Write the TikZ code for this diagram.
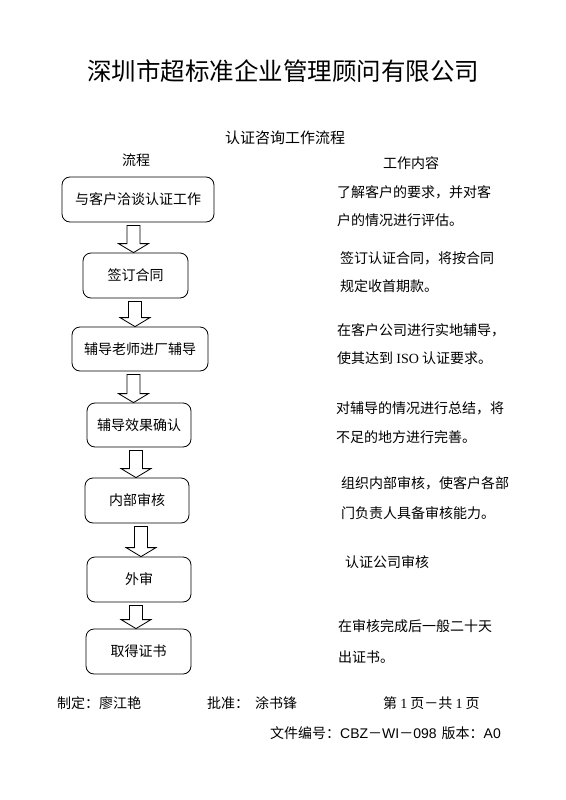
\documentclass[tikz,border=0pt]{standalone}
\usepackage{fontspec}
\setmainfont{Noto Sans CJK SC}
\newfontfamily\latserif{Liberation Serif}
\newfontfamily\latsans{Liberation Sans}
\usetikzlibrary{calc}
\tikzset{
  stepbox/.style={draw, line width=0.8pt, rounded corners=8pt, inner sep=0pt,
    font=\fontsize{14}{16}\selectfont},
  barrow/.style={draw, line width=0.8pt, fill=white, line join=miter},
  txt/.style={anchor=west, inner sep=0pt, font=\fontsize{14}{16}\selectfont},
  ctxt/.style={inner sep=0pt, font=\fontsize{14}{16}\selectfont}
}
% #1 upper box, #2 lower box, #3 x offset of the arrow from the upper box centre
\newcommand{\blkarrow}[3]{%
  \draw[barrow] let \p1=(#1.south), \p2=(#2.north) in
    ($(\x1+#3pt-6.5pt,\y1-3pt)$) -- ($(\x1+#3pt+6.5pt,\y1-3pt)$)
    -- ($(\x1+#3pt+6.5pt,\y2+9pt)$) -- ($(\x1+#3pt+15pt,\y2+9pt)$)
    -- ($(\x1+#3pt,\y2)$) -- ($(\x1+#3pt-15pt,\y2+9pt)$)
    -- ($(\x1+#3pt-6.5pt,\y2+9pt)$) -- cycle;}
\begin{document}
\begin{tikzpicture}[x=1pt,y=-1pt]
\useasboundingbox (0,0) rectangle (565,800);
\fill[white] (0,0) rectangle (565,800);

\node[inner sep=0pt, font=\fontsize{24.5}{28}\selectfont] (title) at (283,71) {深圳市超标准企业管理顾问有限公司};
\node[ctxt, font=\fontsize{15}{17}\selectfont] (sub) at (285,138) {认证咨询工作流程};
\node[ctxt] (hflow) at (136,160) {流程};
\node[ctxt] (hwork) at (411,163) {工作内容};

\node[stepbox, minimum width=152pt, minimum height=45pt] (b1) at (138,199.5) {与客户洽谈认证工作};
\node[stepbox, minimum width=105pt, minimum height=45pt] (b2) at (135.5,275.5) {签订合同};
\node[stepbox, minimum width=136pt, minimum height=44pt] (b3) at (140,349) {辅导老师进厂辅导};
\node[stepbox, minimum width=104pt, minimum height=44pt] (b4) at (139,425) {辅导效果确认};
\node[stepbox, minimum width=104pt, minimum height=45pt] (b5) at (137,500.5) {内部审核};
\node[stepbox, minimum width=104pt, minimum height=45pt] (b6) at (139,579.5) {外审};
\node[stepbox, minimum width=105pt, minimum height=45pt] (b7) at (138.5,651.5) {取得证书};

\blkarrow{b1}{b2}{-4.5}
\blkarrow{b2}{b3}{-0.5}
\blkarrow{b3}{b4}{-6.5}
\blkarrow{b4}{b5}{-3}
\blkarrow{b5}{b6}{4}
\blkarrow{b6}{b7}{-3}

\node[txt] (r1a) at (337,192) {了解客户的要求，并对客};
\node[txt] (r1b) at (337,220) {户的情况进行评估。};
\node[txt] (r2a) at (340,258) {签订认证合同，将按合同};
\node[txt] (r2b) at (340,286) {规定收首期款。};
\node[txt] (r3a) at (337,330) {在客户公司进行实地辅导，};
\node[txt] (r3b) at (337,358) {使其达到 {\latserif ISO} 认证要求。};
\node[txt] (r4a) at (336,408) {对辅导的情况进行总结，将};
\node[txt] (r4b) at (336,437) {不足的地方进行完善。};
\node[txt] (r5a) at (341,483) {组织内部审核，使客户各部};
\node[txt] (r5b) at (341,513) {门负责人具备审核能力。};
\node[txt] (r6) at (345,562) {认证公司审核};
\node[txt] (r7a) at (338,626) {在审核完成后一般二十天};
\node[txt] (r7b) at (338,657) {出证书。};

\node[txt] (f1) at (57,703) {制定：廖江艳};
\node[txt] (f2) at (207,703) {批准：};
\node[txt] (f3) at (255,703) {涂书锋};
\node[txt] (f4) at (383,703) {第 {\latserif 1} 页－共 {\latserif 1} 页};
\node[txt] (f5) at (270,733) {文件编号：{\latsans CBZ}－{\latsans WI}－{\latsans 098}\hspace{5pt}版本：{\latsans A0}};
\end{tikzpicture}
\end{document}
